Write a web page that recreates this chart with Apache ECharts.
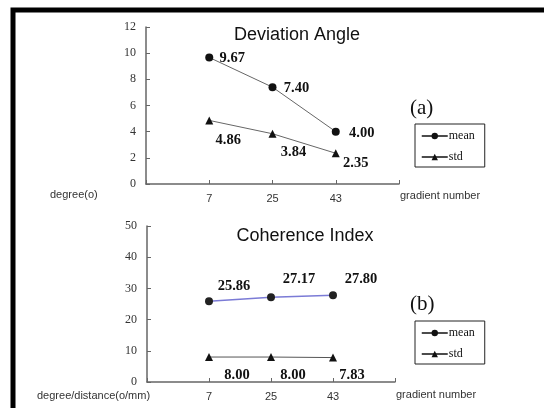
<!DOCTYPE html>
<html><head><meta charset="utf-8">
<script src="https://cdn.jsdelivr.net/npm/echarts@6/dist/echarts.min.js"></script>
<style>html,body{margin:0;padding:0;background:#fff}#c{width:544px;height:408px}</style>
</head><body><div id="c"></div>
<script>
const categories = ['', '7', '25', '43', ''];
const devMean = [9.67, 7.40, 4.00];
const devStd = [4.86, 3.84, 2.35];
const cohMean = [25.86, 27.17, 27.80];
const cohStd = [8.00, 8.00, 7.83];
const devTicks = [0, 12, 2];
const cohTicks = [0, 50, 10];

const chart = echarts.init(document.getElementById('c'));
const serif = 'Liberation Serif';
const sans = 'Liberation Sans';

function pts(vals, offsets) {
  return [null].concat(vals.map((v, i) => ({
    value: v,
    label: { offset: offsets[i] }
  })));
}
const lbl = {
  show: true, position: 'inside', color: '#111',
  fontFamily: serif, fontWeight: 'bold', fontSize: 14.5,
  align: 'center', verticalAlign: 'middle',
  formatter: p => p.value.toFixed(2)
};
function xAx(gi) {
  return {
    type: 'category', gridIndex: gi, data: categories, boundaryGap: false,
    axisLine: { lineStyle: { color: '#666', width: 1.5 } },
    axisTick: { inside: true, length: 4, lineStyle: { color: '#666' } },
    axisLabel: { color: '#333', fontFamily: sans, fontSize: 11, margin: 9 }
  };
}
function yAx(gi, t) {
  return {
    type: 'value', gridIndex: gi, min: t[0], max: t[1], interval: t[2],
    splitLine: { show: false },
    axisLine: { show: true, lineStyle: { color: '#666', width: 1.5 } },
    axisTick: { show: true, inside: true, length: 4, lineStyle: { color: '#666' } },
    axisLabel: { color: '#333', fontFamily: serif, fontSize: 12, margin: 10 }
  };
}
const legendBase = {
  orient: 'vertical', left: 415, itemWidth: 26, itemHeight: 8, itemGap: 9,
  borderColor: '#222', borderWidth: 1, padding: [6, 10, 4, 6], borderRadius: 0,
  textStyle: { fontFamily: serif, fontSize: 12, color: '#111', padding: [0, 0, 0, -4] }
};
const legLine = { color: '#111', width: 1.5 };

chart.setOption({
  animation: false,
  grid: [
    { left: 146, top: 27, width: 253, height: 157 },
    { left: 147, top: 226, width: 248, height: 156 }
  ],
  xAxis: [xAx(0), xAx(1)],
  yAxis: [yAx(0, devTicks), yAx(1, cohTicks)],
  legend: [
    Object.assign({}, legendBase, { top: 124, data: [
      { name: 'mean', lineStyle: legLine }, { name: 'std', lineStyle: legLine }] }),
    Object.assign({}, legendBase, { top: 321, data: [
      { name: 'mean ', lineStyle: legLine, itemStyle: { color: '#111' } },
      { name: 'std ', lineStyle: legLine }],
      formatter: n => n.trim() })
  ],
  title: [
    { text: 'Deviation Angle', left: 292, top: 21, textAlign: 'center',
      textStyle: { fontFamily: sans, fontWeight: 'normal', fontSize: 18, color: '#111' } },
    { text: 'Coherence Index', left: 300, top: 222, textAlign: 'center',
      textStyle: { fontFamily: sans, fontWeight: 'normal', fontSize: 18, color: '#111' } }
  ],
  graphic: [
    { type: 'rect', shape: { x: 13, y: 10, width: 600, height: 500 },
      style: { fill: 'none', stroke: '#000', lineWidth: 5 }, z: 100 },
    { type: 'text', left: 410, top: 98, style: { text: '(a)', font: '21px "Liberation Serif"', fill: '#111' } },
    { type: 'text', left: 410, top: 294, style: { text: '(b)', font: '21px "Liberation Serif"', fill: '#111' } },
    { type: 'text', left: 50, top: 189, style: { text: 'degree(o)', font: '11px "Liberation Sans"', fill: '#333' } },
    { type: 'text', left: 400, top: 190, style: { text: 'gradient number', font: '11px "Liberation Sans"', fill: '#333' } },
    { type: 'text', left: 37, top: 390, style: { text: 'degree/distance(o/mm)', font: '11px "Liberation Sans"', fill: '#333' } },
    { type: 'text', left: 396, top: 389, style: { text: 'gradient number', font: '11px "Liberation Sans"', fill: '#333' } }
  ],
  series: [
    { name: 'mean', type: 'line', xAxisIndex: 0, yAxisIndex: 0,
      data: pts(devMean, [[23, 1], [24, 1], [26, 2]]),
      symbol: 'circle', symbolSize: 8, itemStyle: { color: '#111' },
      lineStyle: { color: '#666', width: 1 }, label: lbl },
    { name: 'std', type: 'line', xAxisIndex: 0, yAxisIndex: 0,
      data: pts(devStd, [[19, 20], [21, 18], [20, 10]]),
      symbol: 'triangle', symbolSize: 8, itemStyle: { color: '#111' },
      lineStyle: { color: '#666', width: 1 }, label: lbl },
    { name: 'mean ', type: 'line', xAxisIndex: 1, yAxisIndex: 1,
      data: pts(cohMean, [[25, -15], [28, -18], [28, -16]]),
      symbol: 'circle', symbolSize: 8, itemStyle: { color: '#222' },
      lineStyle: { color: '#7b7bd6', width: 1.5 }, label: lbl },
    { name: 'std ', type: 'line', xAxisIndex: 1, yAxisIndex: 1,
      data: pts(cohStd, [[28, 18], [22, 18], [19, 18]]),
      symbol: 'triangle', symbolSize: 8, itemStyle: { color: '#111' },
      lineStyle: { color: '#555', width: 1 }, label: lbl }
  ]
});
</script></body></html>
